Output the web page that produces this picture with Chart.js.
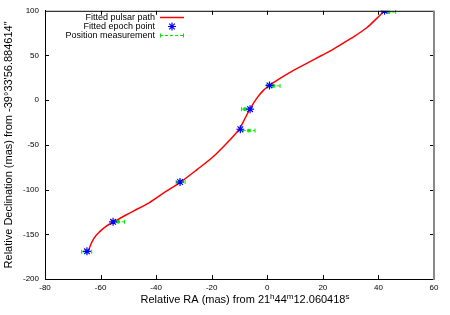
<!DOCTYPE html>
<html>
<head>
<meta charset="utf-8">
<script src="https://cdn.jsdelivr.net/npm/chart.js@4/dist/chart.umd.min.js"></script>
<style>
  html, body { margin: 0; padding: 0; background: #fff; }
  #wrap { width: 450px; height: 315px; }
</style>
</head>
<body>
<div id="wrap"><canvas id="myChart" width="450" height="315"></canvas></div>
<script>
// fitted pulsar path (RA, Dec in mas)
const pathRA  = [-64.4, -63.6, -62.4, -60.2, -57.8, -55.4, -51.2, -48.2, -43.4, -37.4, -31.4, -25.4, -19.4, -14.6, -11.6, -9.8, -8.0, -6.2, -3.8, -1.4, 1.0, 4.6, 8.2, 11.8, 15.4, 19.5, 23.8, 29.8, 35.8, 39.4, 42.1];
const pathDec = [-169.0, -162.0, -154.5, -146.7, -140.5, -136.3, -129.0, -124.0, -116.3, -104.0, -92.0, -77.9, -63.0, -48.1, -38.0, -31.0, -20.2, -9.8, 2.1, 11.0, 16.9, 24.4, 31.2, 37.2, 43.2, 50.0, 57.2, 68.5, 81.0, 91.5, 99.8];

// fitted epoch points
const epochRA  = [-64.9, -55.5, -31.4, -9.7, -6.2, 0.8, 42.2];
const epochDec = [-169.0, -136.0, -91.5, -32.5, -10.0, 16.5, 100.0];

// position measurements with RA error
const measRA    = [-65.0, -53.7, -31.2, -6.6, -8.0, 2.2, 43.7];
const measDec   = [-169.5, -136.0, -91.5, -34.0, -10.0, 16.0, 98.7];
const measRAErr = [1.8, 2.3, 1.6, 2.2, 1.3, 2.4, 2.5];

const xTicks = [-80, -60, -40, -20, 0, 20, 40, 60];
const yTicks = [-200, -150, -100, -50, 0, 50, 100];

const legendLabels = ['Fitted pulsar path', 'Fitted epoch point', 'Position measurement'];

const RED = '#ff0000';
const BLUE = '#0000ff';
const GREEN = '#00e800';
const FONT = '"Liberation Sans", Arial, sans-serif';

// error bars, legend, frame and the x title with superscripts
const extras = {
  id: 'extras',
  beforeDatasetsDraw(chart) {
    const { ctx, scales: { x, y } } = chart;
    ctx.save();
    ctx.strokeStyle = GREEN;
    ctx.lineWidth = 1;
    measRA.forEach((ra, i) => {
      const x0 = x.getPixelForValue(ra - measRAErr[i]);
      const x1 = x.getPixelForValue(ra + measRAErr[i]);
      const py = y.getPixelForValue(measDec[i]);
      ctx.setLineDash([3, 2]);
      ctx.beginPath();
      ctx.moveTo(x0, py); ctx.lineTo(x1, py);
      ctx.stroke();
      ctx.setLineDash([]);
      ctx.beginPath();
      ctx.moveTo(x0, py - 2); ctx.lineTo(x0, py + 2);
      ctx.moveTo(x1, py - 2); ctx.lineTo(x1, py + 2);
      ctx.stroke();
    });
    ctx.restore();
  },
  afterDraw(chart) {
    const { ctx, chartArea: a, scales: { x, y } } = chart;
    ctx.save();

    // top + right frame, inward ticks on all sides
    ctx.strokeStyle = '#000';
    ctx.lineWidth = 1;
    ctx.beginPath();
    ctx.moveTo(a.left, a.top + 0.5); ctx.lineTo(a.right, a.top + 0.5);
    xTicks.forEach(v => {
      const px = Math.round(x.getPixelForValue(v)) + 0.5;
      if (v === -80 || v === 60) return;
      ctx.moveTo(px, a.bottom); ctx.lineTo(px, a.bottom - 4);
      ctx.moveTo(px, a.top); ctx.lineTo(px, a.top + 4);
    });
    yTicks.forEach(v => {
      const py = Math.round(y.getPixelForValue(v)) + 0.5;
      if (v === -200 || v === 100) return;
      ctx.moveTo(a.left, py); ctx.lineTo(a.left + 4, py);
      ctx.moveTo(a.right, py); ctx.lineTo(a.right - 4, py);
    });
    ctx.stroke();
    ctx.strokeStyle = '#888';
    ctx.lineWidth = 2;
    ctx.beginPath();
    ctx.moveTo(a.right, a.top); ctx.lineTo(a.right, a.bottom + 1);
    ctx.stroke();

    // legend
    ctx.font = '9px ' + FONT;
    ctx.fillStyle = '#000';
    ctx.textAlign = 'right';
    ctx.textBaseline = 'middle';
    const rows = [17.5, 26.5, 35.5];
    legendLabels.forEach((t, i) => ctx.fillText(t, 155, rows[i]));
    ctx.strokeStyle = RED;
    ctx.lineWidth = 1.5;
    ctx.beginPath(); ctx.moveTo(160, rows[0]); ctx.lineTo(184, rows[0]); ctx.stroke();
    ctx.strokeStyle = BLUE;
    ctx.lineWidth = 1.2;
    ctx.beginPath();
    ctx.moveTo(172, rows[1] - 4); ctx.lineTo(172, rows[1] + 4);
    ctx.moveTo(168, rows[1]); ctx.lineTo(176, rows[1]);
    ctx.moveTo(169.2, rows[1] - 2.8); ctx.lineTo(174.8, rows[1] + 2.8);
    ctx.moveTo(169.2, rows[1] + 2.8); ctx.lineTo(174.8, rows[1] - 2.8);
    ctx.stroke();
    ctx.strokeStyle = GREEN;
    ctx.lineWidth = 1;
    ctx.setLineDash([3, 2]);
    ctx.beginPath(); ctx.moveTo(160, rows[2]); ctx.lineTo(184, rows[2]); ctx.stroke();
    ctx.setLineDash([]);
    ctx.beginPath();
    ctx.moveTo(160.5, rows[2] - 2); ctx.lineTo(160.5, rows[2] + 2);
    ctx.moveTo(183.5, rows[2] - 2); ctx.lineTo(183.5, rows[2] + 2);
    ctx.stroke();

    // x axis title with superscript h, m, s
    const parts = [['Relative RA (mas) from 21', false], ['h', true], ['44', false], ['m', true], ['12.060418', false], ['s', true]];
    const big = '11px ' + FONT, small = '8px ' + FONT;
    let w = 0;
    parts.forEach(([t, sup]) => { ctx.font = sup ? small : big; w += ctx.measureText(t).width; });
    let cx = 245 - w / 2;
    ctx.textAlign = 'left';
    ctx.textBaseline = 'alphabetic';
    ctx.fillStyle = '#000';
    parts.forEach(([t, sup]) => {
      ctx.font = sup ? small : big;
      ctx.fillText(t, cx, sup ? 299 : 303);
      cx += ctx.measureText(t).width;
    });
    ctx.restore();
  }
};

const ctx = document.getElementById('myChart').getContext('2d');
const myChart = new Chart(ctx, {
  type: 'scatter',
  data: {
    datasets: [
      {
        label: legendLabels[0],
        data: pathRA.map((v, i) => ({ x: v, y: pathDec[i] })),
        showLine: true,
        borderColor: RED,
        borderWidth: 1.5,
        pointRadius: 0,
        cubicInterpolationMode: 'monotone',
        order: 3
      },
      {
        label: legendLabels[2],
        data: measRA.map((v, i) => ({ x: v, y: measDec[i] })),
        pointStyle: 'rect',
        pointRadius: 1.8,
        backgroundColor: GREEN,
        borderColor: GREEN,
        borderWidth: 1,
        order: 2
      },
      {
        label: legendLabels[1],
        data: epochRA.map((v, i) => ({ x: v, y: epochDec[i] })),
        pointStyle: 'star',
        pointRadius: 4,
        borderColor: BLUE,
        backgroundColor: BLUE,
        borderWidth: 1.2,
        order: 1
      }
    ]
  },
  options: {
    responsive: false,
    animation: false,
    events: [],
    layout: { padding: { top: 10, right: 16, left: 0, bottom: 0 } },
    plugins: {
      legend: { display: false },
      tooltip: { enabled: false }
    },
    scales: {
      x: {
        type: 'linear',
        min: -80, max: 60,
        afterBuildTicks: s => { s.ticks = xTicks.map(v => ({ value: v })); },
        afterFit: s => { s.height = 36; },
        grid: { display: false, drawTicks: false, tickLength: 0 },
        border: { display: true, color: '#000', width: 1 },
        ticks: { color: '#000', font: { size: 8, family: FONT }, padding: 4 }
      },
      y: {
        type: 'linear',
        min: -200, max: 100,
        afterBuildTicks: s => { s.ticks = yTicks.map(v => ({ value: v })); },
        afterFit: s => { s.width = 45; },
        grid: { display: false, drawTicks: false, tickLength: 0 },
        border: { display: true, color: '#000', width: 1 },
        ticks: { color: '#000', font: { size: 8, family: FONT }, padding: 6 },
        title: {
          display: true,
          text: 'Relative Declination (mas) from -39\u00b033\'56.884614"',
          color: '#000',
          font: { size: 11, family: FONT },
          padding: { top: 2, bottom: 0 }
        }
      }
    }
  },
  plugins: [extras]
});
</script>
</body>
</html>
